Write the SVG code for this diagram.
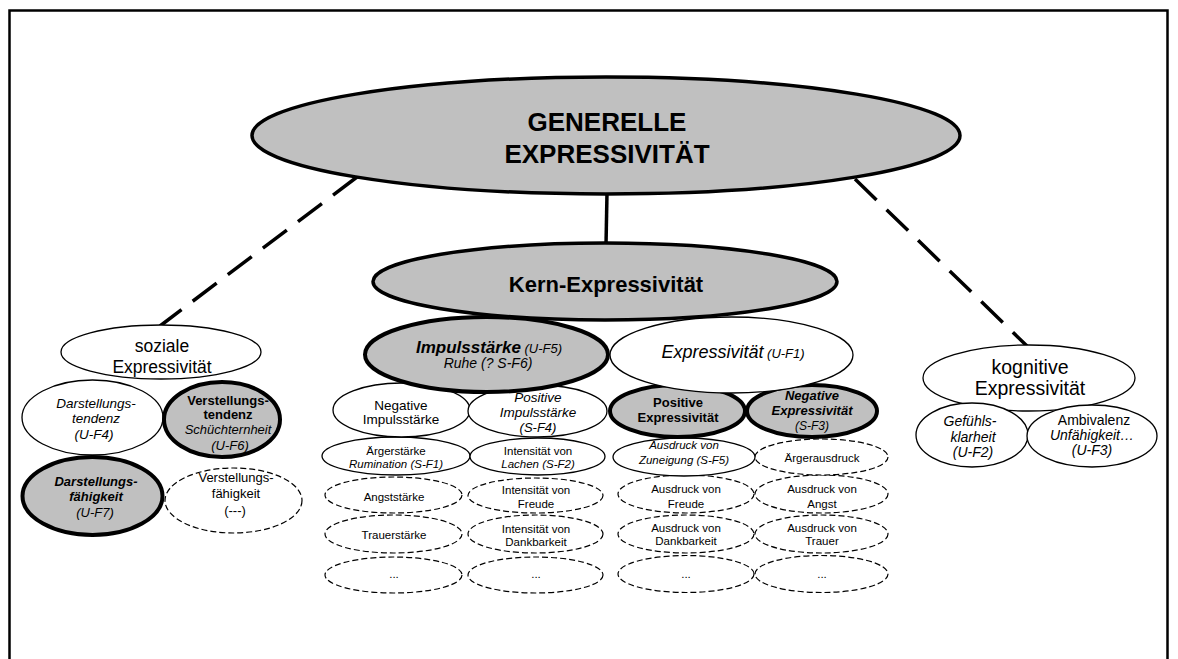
<svg xmlns="http://www.w3.org/2000/svg" width="1178" height="659" viewBox="0 0 1178 659">
<style>
.g{fill:#c0c0c0;stroke:#000;stroke-width:4}
.w{fill:#fff;stroke:#000;stroke-width:1.3}
.d{fill:#fff;stroke:#000;stroke-width:1.2;stroke-dasharray:6 3}
text{font-family:"Liberation Sans",Arial,sans-serif;text-anchor:middle;fill:#000}
.b{font-weight:bold}
.i{font-style:italic}
.s115{font-size:11.5px}
.s12{font-size:12px}
.s13{font-size:13px}
.s135{font-size:13.5px}
.s14{font-size:14px}
.con{stroke:#000;stroke-width:3.5;fill:none}
.dash{stroke-dasharray:30 14}
</style>
<rect x="0" y="0" width="1178" height="659" fill="#fff"/>
<path d="M9.5 659 V10.5 H1167.5 V659" fill="none" stroke="#000" stroke-width="2.5"/>

<g id="connectors">
<line class="con" x1="607" y1="193" x2="606" y2="245"/>
<line class="con dash" x1="357" y1="177" x2="160" y2="326"/>
<line class="con dash" x1="855" y1="179" x2="1027" y2="346"/>
</g>

<g id="generelle">
<ellipse class="g" cx="606" cy="135.5" rx="354" ry="58.5" style="stroke-width:3.5"/>
<text class="b" x="607" y="131" font-size="26">GENERELLE</text>
<text class="b" x="607" y="163" font-size="26">EXPRESSIVITÄT</text>
</g>

<!-- left: soziale -->
<g id="soziale">
<ellipse class="w" cx="161" cy="352" rx="100" ry="27"/>
<text x="162" y="352" font-size="17.5">soziale</text>
<text x="162" y="373" font-size="17.5">Expressivität</text>
</g>
<g id="darstellungstendenz">
<ellipse class="w" cx="92.5" cy="417.5" rx="70.5" ry="37.5"/>
<text class="i s135" x="96" y="408">Darstellungs-</text>
<text class="i s135" x="96" y="423">tendenz</text>
<text class="i s135" x="94" y="439">(U-F4)</text>
</g>
<g id="verstellungstendenz">
<ellipse class="g" cx="222" cy="419.5" rx="58" ry="37.5"/>
<text class="b s13" x="228" y="405">Verstellungs-</text>
<text class="b s13" x="228" y="419">tendenz</text>
<text class="i s13" x="228" y="434">Schüchternheit</text>
<text class="i s13" x="230" y="450">(U-F6)</text>
</g>
<g id="verstellungsfaehigkeit">
<ellipse class="d" cx="233.5" cy="500.5" rx="68.5" ry="32.5"/>
<text class="s13" x="236" y="482">Verstellungs-</text>
<text class="s13" x="236" y="498">fähigkeit</text>
<text class="s13" x="235" y="515">(---)</text>
</g>
<g id="darstellungsfaehigkeit">
<ellipse class="g" cx="92.5" cy="496" rx="70" ry="39"/>
<text class="b i s13" x="96" y="486">Darstellungs-</text>
<text class="b i s13" x="96" y="501">fähigkeit</text>
<text class="i s13" x="95" y="517">(U-F7)</text>
</g>

<!-- middle dashed rows -->
<g id="angststaerke">
<ellipse class="d" cx="393.5" cy="495" rx="68.5" ry="18"/>
<text class="s115" x="394" y="501">Angststärke</text>
</g>
<g id="intensitaet-freude">
<ellipse class="d" cx="535.5" cy="495.5" rx="67.5" ry="17.5"/>
<text class="s115" x="536" y="494">Intensität von</text>
<text class="s115" x="536" y="508">Freude</text>
</g>
<g id="trauerstaerke">
<ellipse class="d" cx="393.5" cy="534" rx="68.5" ry="19"/>
<text class="s115" x="394" y="539">Trauerstärke</text>
</g>
<g id="intensitaet-dankbarkeit">
<ellipse class="d" cx="535.5" cy="534" rx="67.5" ry="19"/>
<text class="s115" x="536" y="533">Intensität von</text>
<text class="s115" x="536" y="546">Dankbarkeit</text>
</g>
<g id="impuls-etc1">
<ellipse class="d" cx="393.5" cy="575" rx="68.5" ry="18"/>
<text class="s115" x="394" y="578">...</text>
</g>
<g id="impuls-etc2">
<ellipse class="d" cx="535.5" cy="575" rx="67.5" ry="18"/>
<text class="s115" x="536" y="578">...</text>
</g>

<g id="aergerstaerke">
<ellipse class="w" cx="396" cy="456" rx="74" ry="19"/>
<text class="s115" x="396" y="455">Ärgerstärke</text>
<text class="i s115" x="396" y="468">Rumination (S-F1)</text>
</g>
<g id="intensitaet-lachen">
<ellipse class="w" cx="537.5" cy="456.5" rx="67.5" ry="18.5"/>
<text class="s115" x="538" y="455">Intensität von</text>
<text class="i s115" x="538" y="468">Lachen (S-F2)</text>
</g>

<g id="negative-impulsstaerke">
<ellipse class="w" cx="401.5" cy="410" rx="68.5" ry="27"/>
<text class="s135" x="401" y="410">Negative</text>
<text class="s135" x="401" y="424">Impulsstärke</text>
</g>
<g id="positive-impulsstaerke">
<ellipse class="w" cx="537.5" cy="411" rx="69.5" ry="26"/>
<text class="i s135" x="538" y="402">Positive</text>
<text class="i s135" x="538" y="417">Impulsstärke</text>
<text class="i s13" x="538" y="432">(S-F4)</text>
</g>

<!-- right-middle dashed rows -->
<g id="ausdruck-freude">
<ellipse class="d" cx="686" cy="494" rx="68" ry="19"/>
<text class="s115" x="686" y="493">Ausdruck von</text>
<text class="s115" x="686" y="508">Freude</text>
</g>
<g id="ausdruck-angst">
<ellipse class="d" cx="821.5" cy="494" rx="66.5" ry="19"/>
<text class="s115" x="822" y="493">Ausdruck von</text>
<text class="s115" x="822" y="508">Angst</text>
</g>
<g id="ausdruck-dankbarkeit">
<ellipse class="d" cx="686" cy="534" rx="68" ry="19"/>
<text class="s115" x="686" y="532">Ausdruck von</text>
<text class="s115" x="686" y="545">Dankbarkeit</text>
</g>
<g id="ausdruck-trauer">
<ellipse class="d" cx="821.5" cy="534" rx="66.5" ry="19"/>
<text class="s115" x="822" y="532">Ausdruck von</text>
<text class="s115" x="822" y="545">Trauer</text>
</g>
<g id="ausdruck-etc1">
<ellipse class="d" cx="686" cy="574" rx="68" ry="18.5"/>
<text class="s115" x="686" y="578">...</text>
</g>
<g id="ausdruck-etc2">
<ellipse class="d" cx="821.5" cy="574" rx="66.5" ry="18.5"/>
<text class="s115" x="822" y="578">...</text>
</g>

<g id="aergerausdruck">
<ellipse class="d" cx="821.5" cy="457" rx="66.5" ry="18"/>
<text class="s115" x="822" y="462">Ärgerausdruck</text>
</g>
<g id="ausdruck-zuneigung">
<ellipse class="w" cx="684" cy="457" rx="71" ry="19"/>
<text class="i s115" x="684" y="449">Ausdruck von</text>
<text class="i s115" x="684" y="464">Zuneigung (S-F5)</text>
</g>

<g id="positive-expressivitaet">
<ellipse class="g" cx="677.5" cy="411" rx="67.5" ry="26"/>
<text class="b s13" x="678" y="407">Positive</text>
<text class="b s13" x="678" y="422">Expressivität</text>
</g>
<g id="negative-expressivitaet">
<ellipse class="g" cx="812" cy="411" rx="65" ry="26"/>
<text class="b i s13" x="812" y="400">Negative</text>
<text class="b i s13" x="812" y="415">Expressivität</text>
<text class="i s12" x="812" y="430">(S-F3)</text>
</g>

<g id="impulsstaerke">
<ellipse class="g" cx="486.5" cy="354.5" rx="121.5" ry="37.5"/>
<text x="489" y="353"><tspan class="b i" font-size="17">Impulsstärke</tspan><tspan class="i" font-size="13"> (U-F5)</tspan></text>
<text class="i s14" x="488" y="368">Ruhe (? S-F6)</text>
</g>
<g id="expressivitaet">
<ellipse class="w" cx="731.5" cy="355" rx="121.5" ry="38"/>
<text x="733" y="358"><tspan class="i" font-size="18">Expressivität</tspan><tspan class="i" font-size="13"> (U-F1)</tspan></text>
</g>

<g id="kern">
<ellipse class="g" cx="605" cy="281.5" rx="232" ry="38.5" style="stroke-width:3.5"/>
<text class="b" x="606" y="292" font-size="22">Kern-Expressivität</text>
</g>

<!-- right: kognitive -->
<g id="kognitive">
<ellipse class="w" cx="1029" cy="378" rx="106" ry="33"/>
<text x="1030" y="374" font-size="19.5">kognitive</text>
<text x="1030" y="395" font-size="19.5">Expressivität</text>
</g>
<g id="gefuehlsklarheit">
<ellipse class="w" cx="972" cy="435" rx="56" ry="32"/>
<text class="i s14" x="970" y="426">Gefühls-</text>
<text class="i s14" x="973" y="442">klarheit</text>
<text class="i s14" x="973" y="457">(U-F2)</text>
</g>
<g id="ambivalenz">
<ellipse class="w" cx="1092" cy="436" rx="65" ry="31"/>
<text class="s14" x="1094" y="425">Ambivalenz</text>
<text class="i s14" x="1092" y="440">Unfähigkeit…</text>
<text class="i s14" x="1092" y="455">(U-F3)</text>
</g>
</svg>
